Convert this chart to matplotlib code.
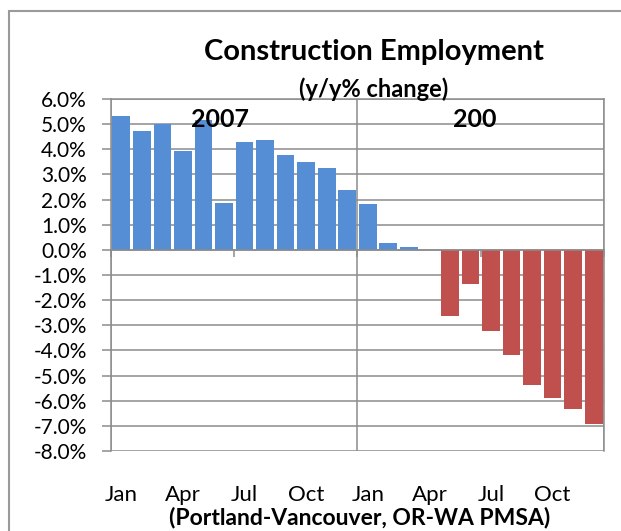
import matplotlib.pyplot as plt
import matplotlib.transforms as mtransforms
from matplotlib.patches import Rectangle
import numpy as np

# y/y % change in construction employment, monthly
months = ["Jan", "Feb", "Mar", "Apr", "May", "Jun",
          "Jul", "Aug", "Sep", "Oct", "Nov", "Dec"]
values_2007 = [5.32, 4.72, 5.01, 3.92, 5.15, 1.85, 4.28, 4.36, 3.76, 3.48, 3.24, 2.37]
values_2008 = [1.81, 0.29, 0.13, 0.0, -2.62, -1.37, -3.24, -4.20, -5.39, -5.89, -6.34, -6.94]
year_labels = ["2007", "200"]
y_ticks = np.arange(-8, 7, 1)

BLUE = "#558ED5"
RED = "#C0504D"
GRID = "#8c8c8c"
FONT = "Lato"

values = values_2007 + values_2008
x = np.arange(len(values))
colors = [BLUE if v >= 0 else RED for v in values]

fig = plt.figure(figsize=(6.21, 5.31), dpi=100)
ax = fig.add_axes([111 / 621, 80 / 531, 493 / 621, 352 / 531])

# outer chart frame (runs off the right and bottom edges)
fig.patches.append(Rectangle((9 / 621, -0.05), 1.1, 1 - 11 / 531 + 0.05,
                             transform=fig.transFigure, fill=False,
                             edgecolor="#9a9a9a", linewidth=1.5, clip_on=False))

ax.bar(x, values, width=0.86, color=colors, zorder=3)

ax.set_xlim(-0.5, len(values) - 0.5)
ax.set_ylim(-8, 6)
ax.set_yticks(y_ticks)
ax.set_yticklabels([f"{t:.1f}%" for t in y_ticks], fontsize=15, family=FONT)
ax.yaxis.grid(True, color=GRID, linewidth=1.1, zorder=0)
for b in range(0, len(values) + 1, 12):
    ax.axvline(b - 0.5, color=GRID, linewidth=1.1, zorder=1)

for side in ["left", "right", "top"]:
    ax.spines[side].set_color(GRID)
    ax.spines[side].set_linewidth(1.1)
ax.spines["bottom"].set_position(("data", 0))
ax.spines["bottom"].set_color(GRID)
ax.spines["bottom"].set_linewidth(1.1)
ax.spines["bottom"].set_zorder(4)
ax.tick_params(axis="y", direction="out", length=6.5, color=GRID, width=1.1, pad=11)
ax.set_xticks(np.arange(0, len(values) + 1, 6) - 0.5)
ax.set_xticklabels([])
ax.tick_params(axis="x", direction="out", length=5, color=GRID, width=1.1)

# month labels below plot area
trans = mtransforms.blended_transform_factory(ax.transData, ax.transAxes)
for i in range(0, len(values), 3):
    ax.text(i, -0.125, months[i % 12], transform=trans, ha="center", va="center",
            fontsize=16, family=FONT)

# year labels
ax.text(4.81, 5.2, year_labels[0], ha="center", va="center", fontsize=18,
        fontweight="bold", family=FONT, zorder=5)
ax.text(17.2, 5.2, year_labels[1], ha="center", va="center", fontsize=18,
        fontweight="bold", family=FONT, zorder=5)

fig.text(374 / 621, 1 - 52 / 531, "Construction Employment", ha="center", va="center",
         fontsize=21, fontweight="bold", family=FONT)
fig.text(374 / 621, 1 - 89 / 531, "(y/y% change)", ha="center", va="center",
         fontsize=17, fontweight="bold", family=FONT)
fig.text(360 / 621, 1 - 517 / 531, "(Portland-Vancouver, OR-WA PMSA)", ha="center",
         va="center", fontsize=16.5, fontweight="bold", family=FONT)

fig.savefig("out.png", dpi=100)
